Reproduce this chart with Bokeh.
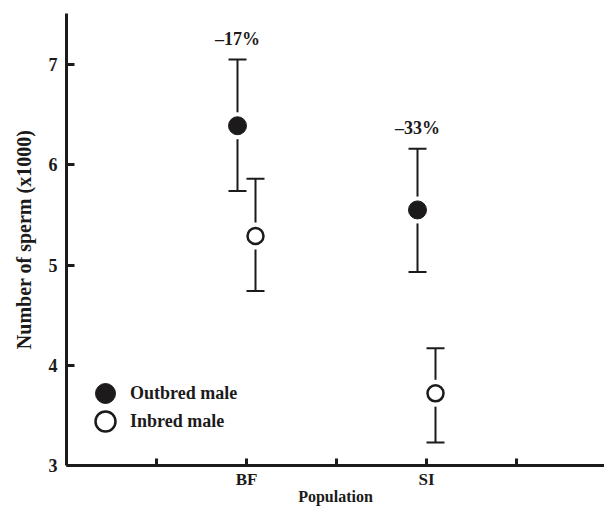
from bokeh.plotting import figure
from bokeh.models import (Range1d, FixedTicker, ColumnDataSource, Whisker, TeeHead,
                          Legend, LegendItem)
from bokeh.embed import file_html
from bokeh.resources import INLINE
from bokeh.core.properties import value

# ---- data ----
populations = ["BF", "SI"]
outbred_mean = [6.39, 5.55]
outbred_upper = [7.05, 6.16]
outbred_lower = [5.74, 4.93]
inbred_mean = [5.29, 3.72]
inbred_upper = [5.86, 4.17]
inbred_lower = [4.74, 3.23]
change_labels = ["\u201317%", "\u201333%"]
x_ticks = [1, 2, 3, 4, 5]

FONT = "Liberation Serif"
INK = "#1c1a1a"

cat_pos = [2 * (i + 1) for i in range(len(populations))]
off = 0.1
src_out = ColumnDataSource(dict(x=[c - off for c in cat_pos], y=outbred_mean,
                                upper=outbred_upper, lower=outbred_lower,
                                lab=change_labels))
src_in = ColumnDataSource(dict(x=[c + off for c in cat_pos], y=inbred_mean,
                               upper=inbred_upper, lower=inbred_lower))

FW = 538
p = figure(frame_width=FW, frame_height=452, output_backend="svg", toolbar_location=None,
           x_range=Range1d(0, FW / 90), y_range=Range1d(3, 7.51),
           min_border_left=66, min_border_top=13, min_border_right=0, min_border_bottom=0)
p.outline_line_color = None
p.xgrid.visible = False
p.ygrid.visible = False

for src in (src_out, src_in):
    w = Whisker(source=src, base="x", upper="upper", lower="lower", dimension="height",
                line_color=INK, line_width=2,
                upper_head=TeeHead(size=18, line_color=INK, line_width=2),
                lower_head=TeeHead(size=18, line_color=INK, line_width=2))
    p.add_layout(w)

# white halos to create gap between whisker and marker
p.scatter("x", "y", source=src_out, size=27, fill_color="white", line_color=None)
p.scatter("x", "y", source=src_in, size=27, fill_color="white", line_color=None)
r_out = p.scatter("x", "y", source=src_out, size=18, fill_color=INK, line_color=INK, line_width=1)
r_in = p.scatter("x", "y", source=src_in, size=16, fill_color="white", line_color=INK, line_width=2.5)

p.text("x", "upper", text="lab", source=src_out, text_align="center", text_baseline="alphabetic",
       y_offset=-21, text_font=value(FONT), text_font_style="bold", text_font_size="18px",
       text_color=INK)

# axes
p.yaxis.ticker = FixedTicker(ticks=[3, 4, 5, 6, 7])
p.yaxis.major_tick_in = 8
p.yaxis.major_tick_out = 0
p.yaxis.minor_tick_line_color = None
p.yaxis.axis_line_width = 3
p.yaxis.major_tick_line_width = 3
p.yaxis.axis_line_color = INK
p.yaxis.major_tick_line_color = INK
p.yaxis.major_label_standoff = 9
p.yaxis.major_label_text_font = FONT
p.yaxis.major_label_text_font_style = "bold"
p.yaxis.major_label_text_font_size = "18px"
p.yaxis.major_label_text_color = INK
p.yaxis.axis_label = "Number of sperm (x1000)"
p.yaxis.axis_label_text_font = FONT
p.yaxis.axis_label_text_font_style = "bold"
p.yaxis.axis_label_text_font_size = "20px"
p.yaxis.axis_label_text_color = INK
p.yaxis.axis_label_standoff = 11

p.xaxis.ticker = FixedTicker(ticks=x_ticks)
p.xaxis.major_label_overrides = {t: "" for t in x_ticks}
p.xaxis.major_label_overrides.update({c: n for c, n in zip(cat_pos, populations)})
p.xaxis.major_tick_in = 7
p.xaxis.major_tick_out = 0
p.xaxis.minor_tick_line_color = None
p.xaxis.axis_line_width = 3
p.xaxis.major_tick_line_width = 3
p.xaxis.axis_line_color = INK
p.xaxis.major_tick_line_color = INK
p.xaxis.major_label_standoff = 4
p.xaxis.major_label_text_font = FONT
p.xaxis.major_label_text_font_style = "bold"
p.xaxis.major_label_text_font_size = "17px"
p.xaxis.major_label_text_color = INK
p.xaxis.axis_label = "Population"
p.xaxis.axis_label_text_font = FONT
p.xaxis.axis_label_text_font_style = "bold"
p.xaxis.axis_label_text_font_size = "16px"
p.xaxis.axis_label_text_color = INK
p.xaxis.axis_label_standoff = -4

legend_labels = ["Outbred male", "Inbred male"]
legend_style = dict(glyph_width=50, glyph_height=50, label_standoff=-10, padding=0, margin=0,
                    border_line_color=None, background_fill_alpha=0, label_text_font=FONT,
                    label_text_font_style="bold", label_text_font_size="18px",
                    label_text_color=INK)
# one legend per entry so that the rows can sit closer than the glyph box
for k, (lab, r) in enumerate(zip(legend_labels, [r_out, r_in])):
    lg = Legend(items=[LegendItem(label=lab, renderers=[r])],
                location=(14, 47 - 28 * k), **legend_style)
    p.add_layout(lg)

open("out.html", "w").write(file_html(p, INLINE))
